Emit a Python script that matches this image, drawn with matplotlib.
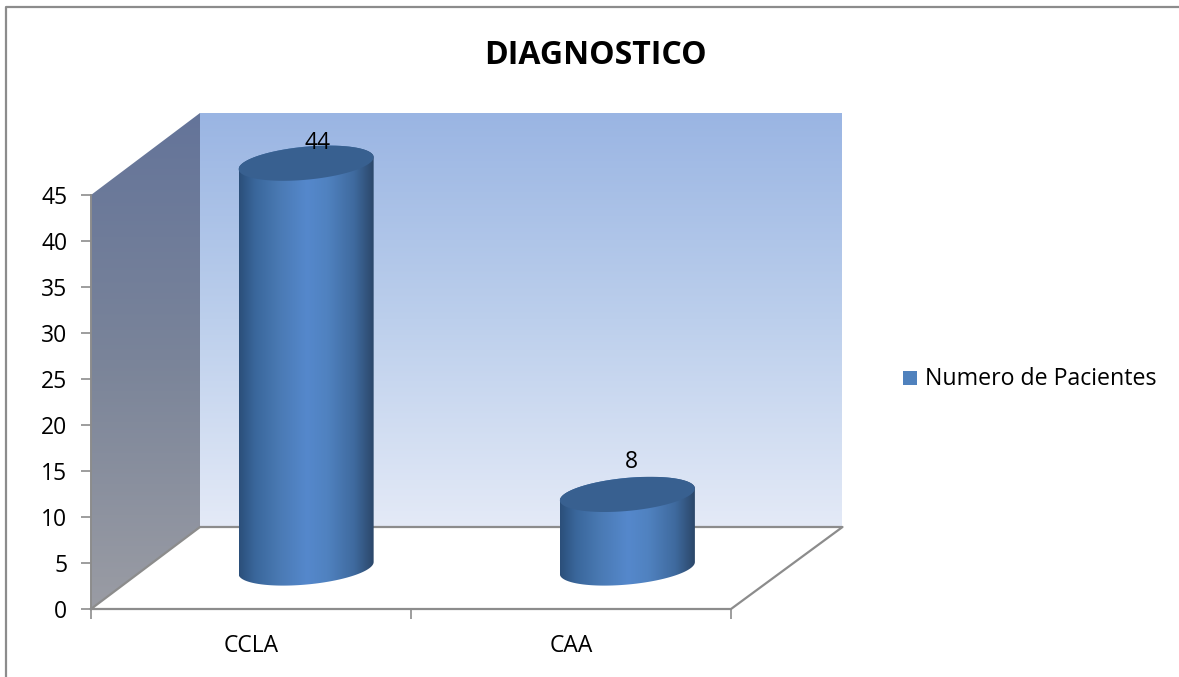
import numpy as np
import matplotlib
matplotlib.use('Agg')
import matplotlib.pyplot as plt
from matplotlib.lines import Line2D
from matplotlib.patches import Polygon, Rectangle
from matplotlib.colors import LinearSegmentedColormap

plt.rcParams['font.family'] = ['Open Sans', 'DejaVu Sans']

title = 'DIAGNOSTICO'
categories = ['CCLA', 'CAA']
values = [44, 8]
series_name = 'Numero de Pacientes'
yticks = [0, 5, 10, 15, 20, 25, 30, 35, 40, 45]

# floor depth expressed in axis units
DEPTH_X = 109 / 320
DEPTH_Y = 82 / 9.2
BACK_EXTRA = 2.5 / 320
HALF_W = 0.211
HALF_H = 1.8
TILT = 0.65

LABEL_SHIFT = [(0.035, 2.15), (0.012, 3.5)]

BODY = LinearSegmentedColormap.from_list('body', [
    (0.0, '#2b4f7a'), (0.12, '#3a679c'), (0.3, '#4a7ab4'), (0.5, '#5588cc'),
    (0.65, '#5082c0'), (0.85, '#3f6a9e'), (1.0, '#2a4567')])
BACK = LinearSegmentedColormap.from_list('back', ['#9ab5e3', '#bccfec', '#e4eaf7'])
SIDE = LinearSegmentedColormap.from_list('side', ['#64749a', '#7a8499', '#9a9ca4'])
TOP_COLOR = '#386090'
LINE = '#8c8c8c'


def shaded_polygon(ax, verts, cmap, vertical=True, zorder=1):
    """Fill a polygon with a linear gradient, allowed to spill past the axes."""
    verts = np.array(verts)
    x0, x1 = verts[:, 0].min(), verts[:, 0].max()
    y0, y1 = verts[:, 1].min(), verts[:, 1].max()
    grad = np.linspace(0, 1, 256)
    grad = grad[:, None] if vertical else grad[None, :]
    im = ax.imshow(grad, cmap=cmap, extent=[x0, x1, y0, y1], origin='upper',
                   aspect='auto', zorder=zorder, interpolation='bilinear')
    patch = Polygon(verts, closed=True, transform=ax.transData,
                    facecolor='none', edgecolor='none', clip_on=False)
    ax.add_patch(patch)
    im.set_clip_path(patch)
    im.set_clip_box(ax.figure.bbox)
    return im


def ellipse_xy(cx, cy, start, stop):
    t = np.linspace(start, stop, 80)
    return cx + HALF_W * np.cos(t), cy + HALF_H * np.sin(t) + TILT * np.cos(t)


def draw_cylinder(ax, pos, value):
    cx = pos + DEPTH_X / 2 + BACK_EXTRA / 2 * pos
    base = DEPTH_Y / 2
    top = value + DEPTH_Y / 2
    bx, by = ellipse_xy(cx, base, np.pi, 2 * np.pi)
    tx, ty = ellipse_xy(cx, top, 0, np.pi)
    body = np.column_stack([np.r_[bx, tx], np.r_[by, ty]])
    shaded_polygon(ax, body, BODY, vertical=False, zorder=3)
    ex, ey = ellipse_xy(cx, top, 0, 2 * np.pi)
    ax.fill(ex, ey, color=TOP_COLOR, lw=0, zorder=4, clip_on=False)
    return cx, top


fig = plt.figure(figsize=(11.79, 6.77), dpi=100)
ax = fig.add_axes([91 / 1179, 1 - 609 / 677, 640 / 1179, 414 / 677])

n = len(categories)
ymax = yticks[-1]
back_right = n + DEPTH_X + BACK_EXTRA

# walls of the 3D box
shaded_polygon(ax, [(DEPTH_X, DEPTH_Y), (back_right, DEPTH_Y),
                    (back_right, ymax + DEPTH_Y), (DEPTH_X, ymax + DEPTH_Y)], BACK)
shaded_polygon(ax, [(0, 0), (DEPTH_X, DEPTH_Y), (DEPTH_X, ymax + DEPTH_Y), (0, ymax)], SIDE)

# floor outline
ax.plot([0, DEPTH_X, back_right, n, 0], [0, DEPTH_Y, DEPTH_Y, 0, 0],
        color=LINE, lw=1.6, zorder=2, clip_on=False)

for i, (cat, val) in enumerate(zip(categories, values)):
    cx, top = draw_cylinder(ax, i + 0.5, val)
    ax.text(cx + LABEL_SHIFT[i][0], top + LABEL_SHIFT[i][1], str(val), ha='center', va='center',
            fontsize=16.5, color='black', zorder=5)

ax.set_xlim(0, n)
ax.set_ylim(0, ymax)
ax.set_xticks(range(n + 1))
ax.set_xticklabels([])
ax.set_yticks(yticks)
ax.tick_params(axis='y', length=7, width=1.2, color=LINE, labelsize=16.5, pad=10)
ax.tick_params(axis='x', length=7, width=1.2, color=LINE, direction='out')
for i, cat in enumerate(categories):
    ax.annotate(cat, (i + 0.5, 0), xytext=(0, -27), textcoords='offset points',
                ha='center', va='center', fontsize=16.5,
                annotation_clip=False)
for side in ['top', 'right', 'bottom']:
    ax.spines[side].set_visible(False)
ax.spines['left'].set_color(LINE)
ax.spines['left'].set_linewidth(1.4)
ax.patch.set_visible(False)

fig.text(595.5 / 1179, 1 - 56 / 677, title, ha='center', va='center',
         fontsize=23, fontweight='bold')

# legend swatch and label
fig.patches.append(Rectangle((903 / 1179, 1 - 385 / 677), 14 / 1179, 14 / 677,
                             transform=fig.transFigure, facecolor='#4f81bd', edgecolor='none'))
fig.text(925 / 1179, 1 - 379 / 677, series_name, ha='left', va='center', fontsize=16.7)

# chart frame, left and top edges only
fig.add_artist(Line2D([5.5 / 1179, 5.5 / 1179, 1], [0, 1 - 6.5 / 677, 1 - 6.5 / 677],
                      transform=fig.transFigure, color='#8c8c8c', lw=1.6))

fig.savefig('out.png', dpi=100)
